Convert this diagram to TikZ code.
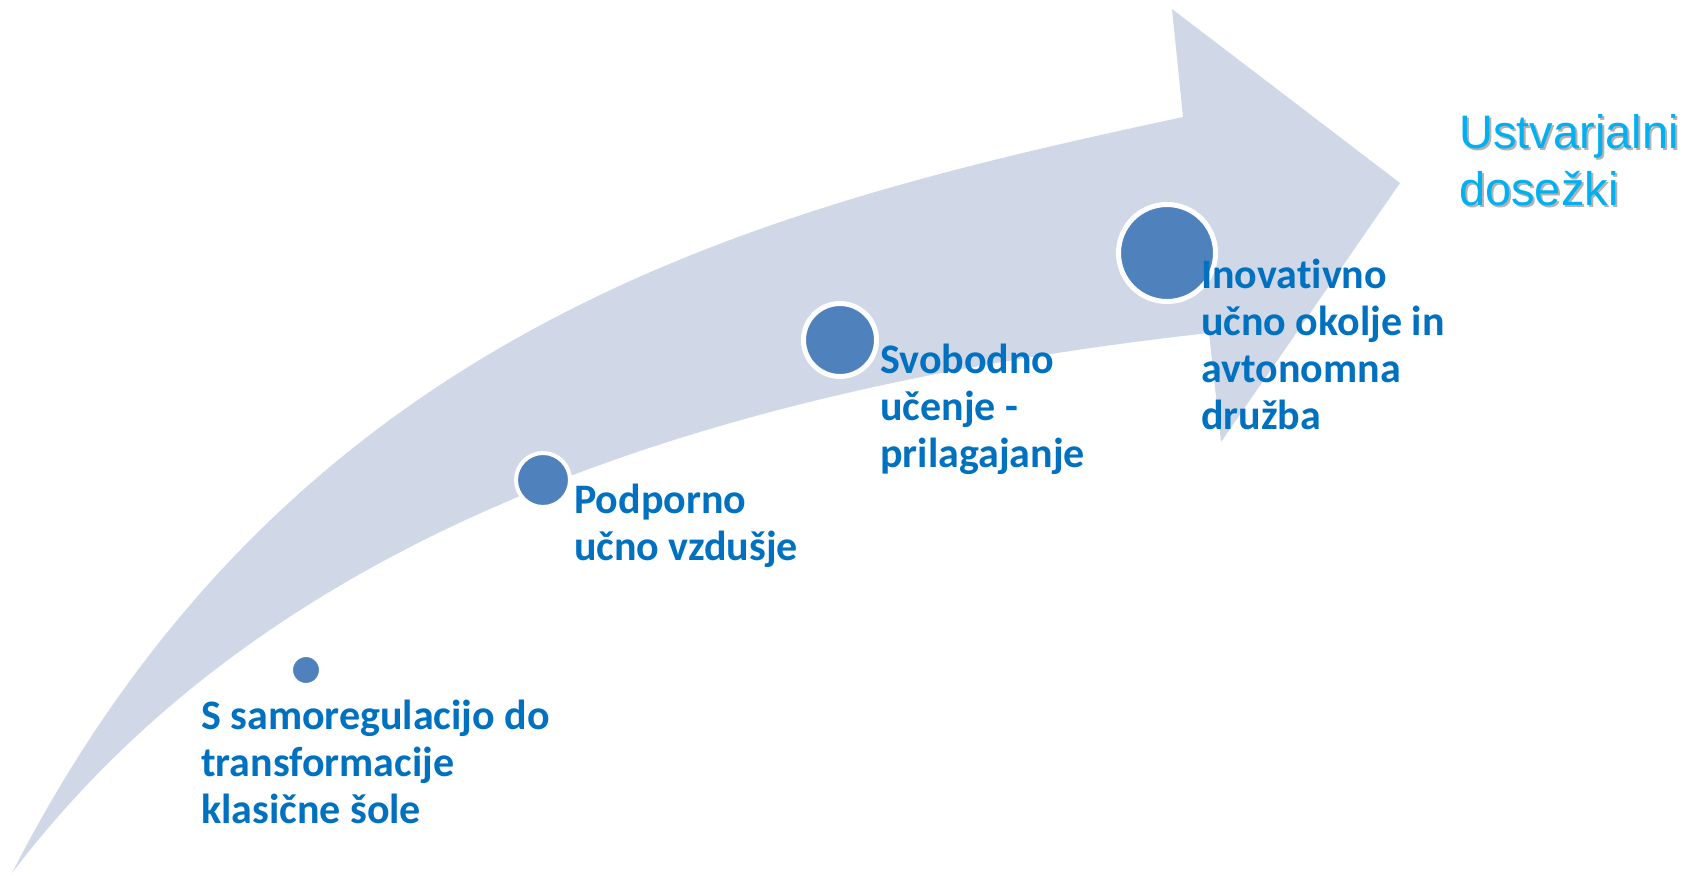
\documentclass[tikz,border=0pt]{standalone}
\usepackage{fontspec}
\setmainfont{Carlito}[Ligatures=NoCommon]
\newfontfamily\arialfont{Liberation Sans}
\newcommand{\stagefont}{\fontsize{42}{47}\selectfont\bfseries}
\definecolor{arrowfill}{HTML}{D0D8E8}
\definecolor{dotfill}{HTML}{4F81BD}
\definecolor{labelblue}{HTML}{0070C0}
\definecolor{goalblue}{HTML}{00B0F0}
\tikzset{
  dot/.style={circle, fill=dotfill, draw=white, inner sep=0pt},
  stage/.style={anchor=base west, inner sep=0pt, text width=400pt, align=flush left,
    text=labelblue, font=\stagefont},
  goal/.style={anchor=base west, inner sep=0pt, text width=300pt, align=flush left,
    font=\arialfont\fontsize{47}{57}\selectfont}
}
\begin{document}
\begin{tikzpicture}[x=1pt,y=-1pt]
\useasboundingbox (0,0) rectangle (1699,876);
% big ascending arrow
\fill[arrowfill] (12,873) .. controls (294,322) and (764,207) .. (1183,117)
  -- (1172,9) -- (1400,183) -- (1221,442) -- (1209,333)
  .. controls (650,395) and (250,560) .. cycle;
% dots
\node[dot, line width=3pt, minimum size=29pt] (d1) at (306,670) {};
\node[dot, line width=4pt, minimum size=54pt] (d2) at (543,480) {};
\node[dot, line width=5pt, minimum size=73pt] (d3) at (840,340) {};
\node[dot, line width=5pt, minimum size=97pt] (d4) at (1167,253) {};
% labels
\node[stage] (l1) at (201,729) {S samoregulacijo do\\transformacije\\klasične šole};
\node[stage] (l2) at (574,513) {Podporno\\učno vzdušje};
\node[stage] (l3) at (880,373) {Svobodno\\učenje -\\prilagajanje};
\node[stage] (l4) at (1201,288) {Inovativno\\učno okolje in\\avtonomna\\družba};
% goal with shadow
\node[goal, text=black!30] (gs) at (1461,150) {Ustvarjalni\\dosežki};
\node[goal, text=goalblue] (g) at (1459,148) {Ustvarjalni\\dosežki};
\end{tikzpicture}
\end{document}
